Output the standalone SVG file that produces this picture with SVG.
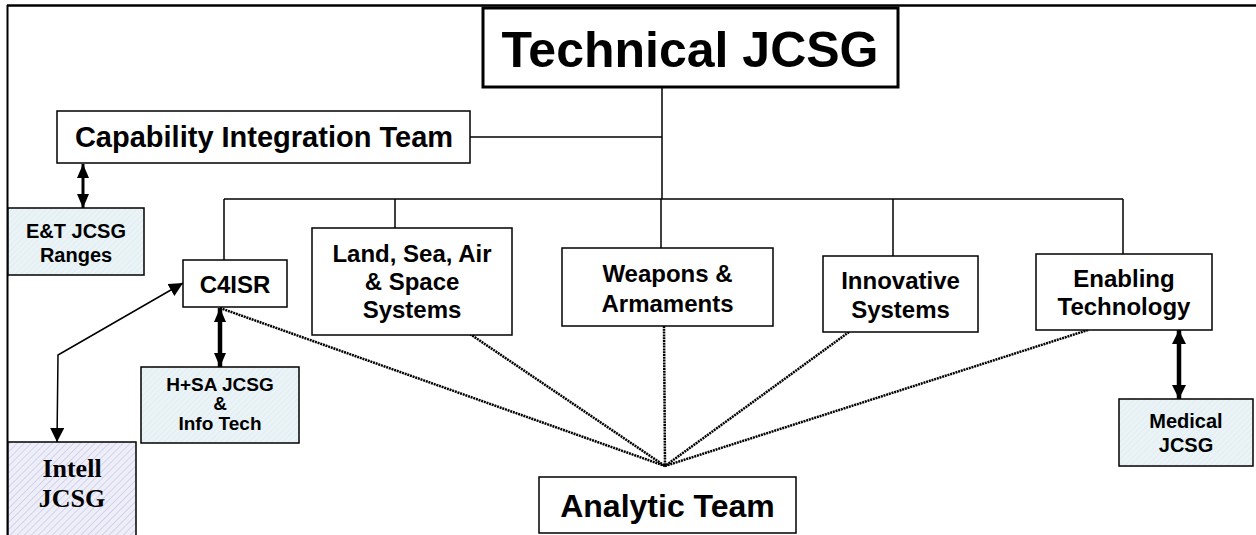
<svg xmlns="http://www.w3.org/2000/svg" width="1256" height="535" viewBox="0 0 1256 535">
<style>
.box{fill:#fff;stroke:#000;stroke-width:1.5}
.ext{fill:url(#hatchBlue);stroke:#000;stroke-width:1.5}
.t{font-family:"Liberation Sans",Arial,sans-serif;font-weight:bold;fill:#000;text-anchor:middle}
.ts{font-family:"Liberation Serif","Times New Roman",serif;font-weight:bold;fill:#000;text-anchor:middle}
.tree{fill:none;stroke:#000;stroke-width:1.5}
.dot{fill:none;stroke:#000;stroke-width:2.5;stroke-dasharray:2 0.8}
.arr{fill:none;stroke:#000}
</style>
<defs>
<pattern id="hatchBlue" width="4" height="4" patternUnits="userSpaceOnUse" patternTransform="rotate(45)">
<rect width="4" height="4" fill="#eaf3f6"/>
<line x1="0" y1="0" x2="0" y2="4" stroke="#dbe8ee" stroke-width="1"/>
</pattern>
<pattern id="hatchLav" width="5" height="5" patternUnits="userSpaceOnUse" patternTransform="rotate(45)">
<rect width="5" height="5" fill="#eeeef8"/>
<line x1="0" y1="0" x2="0" y2="5" stroke="#c8cbe8" stroke-width="1.5"/>
</pattern>
<marker id="ah" viewBox="0 0 14 14" markerWidth="14" markerHeight="14" refX="14" refY="7" orient="auto-start-reverse" markerUnits="userSpaceOnUse">
<path d="M0,0 L14,7 L0,14 z" fill="#000"/>
</marker>
<marker id="ahs" viewBox="0 0 14 12" markerWidth="14" markerHeight="12" refX="14" refY="6" orient="auto-start-reverse" markerUnits="userSpaceOnUse">
<path d="M0,0 L14,6 L0,12 z" fill="#000"/>
</marker>
</defs>

<g id="frame">
<line x1="7" y1="5.5" x2="1256" y2="5.5" stroke="#000" stroke-width="2.5"/>
<line x1="7.5" y1="5" x2="7.5" y2="535" stroke="#000" stroke-width="2"/>
</g>

<g id="connectors">
<polyline class="tree" points="662,87 662,199"/>
<line class="tree" x1="470" y1="137" x2="662" y2="137"/>
<line class="tree" x1="224" y1="199" x2="1123" y2="199"/>
<line class="tree" x1="224" y1="199" x2="224" y2="260"/>
<line class="tree" x1="395" y1="199" x2="395" y2="228"/>
<line class="tree" x1="661" y1="199" x2="661" y2="248"/>
<line class="tree" x1="893" y1="199" x2="893" y2="256"/>
<line class="tree" x1="1123" y1="199" x2="1123" y2="254"/>
<line class="dot" x1="220" y1="308" x2="665" y2="466"/>
<line class="dot" x1="470" y1="334" x2="665" y2="466"/>
<line class="dot" x1="664" y1="326" x2="665" y2="466"/>
<line class="dot" x1="849" y1="332" x2="665" y2="466"/>
<line class="dot" x1="1088" y1="330" x2="665" y2="466"/>
<line class="arr" x1="83" y1="164" x2="83" y2="208" stroke-width="3" marker-start="url(#ahs)" marker-end="url(#ahs)"/>
<line class="arr" x1="220" y1="308" x2="220" y2="367" stroke-width="4.5" marker-start="url(#ahs)" marker-end="url(#ahs)"/>
<polyline class="arr" points="57,442 58,355 183,283" stroke-width="1.5" marker-start="url(#ah)" marker-end="url(#ah)"/>
<line class="arr" x1="1179" y1="330" x2="1179" y2="399" stroke-width="4.5" marker-start="url(#ah)" marker-end="url(#ah)"/>
</g>

<g id="technical">
<rect x="483" y="8" width="415" height="79" fill="#fff" stroke="#000" stroke-width="3"/>
<text class="t" x="690" y="67" font-size="50">Technical JCSG</text>
</g>
<g id="capability">
<rect class="box" x="57" y="111" width="413" height="52"/>
<text class="t" x="264" y="147" font-size="29">Capability Integration Team</text>
</g>
<g id="et-ranges">
<rect class="ext" x="8" y="208" width="136" height="67"/>
<text class="t" x="76" y="238" font-size="20">E&amp;T JCSG</text>
<text class="t" x="76" y="262" font-size="20">Ranges</text>
</g>
<g id="c4isr">
<rect class="box" x="183" y="260" width="104" height="47"/>
<text class="t" x="235" y="293" font-size="24">C4ISR</text>
</g>
<g id="land-sea-air">
<rect class="box" x="312" y="228" width="200" height="107"/>
<text class="t" x="412" y="262" font-size="24">Land, Sea, Air</text>
<text class="t" x="412" y="290" font-size="24">&amp; Space</text>
<text class="t" x="412" y="318" font-size="24">Systems</text>
</g>
<g id="weapons">
<rect class="box" x="562" y="248" width="211" height="78"/>
<text class="t" x="667.5" y="282" font-size="24">Weapons &amp;</text>
<text class="t" x="667.5" y="312" font-size="24">Armaments</text>
</g>
<g id="innovative">
<rect class="box" x="823" y="256" width="155" height="76"/>
<text class="t" x="900.5" y="289" font-size="24">Innovative</text>
<text class="t" x="900.5" y="318" font-size="24">Systems</text>
</g>
<g id="enabling">
<rect class="box" x="1036" y="254" width="176" height="76"/>
<text class="t" x="1124" y="287" font-size="24">Enabling</text>
<text class="t" x="1124" y="315" font-size="24">Technology</text>
</g>
<g id="hsa">
<rect class="ext" x="141" y="367" width="158" height="76"/>
<text class="t" x="220" y="391" font-size="19">H+SA JCSG</text>
<text class="t" x="220" y="410" font-size="19">&amp;</text>
<text class="t" x="220" y="430" font-size="19">Info Tech</text>
</g>
<g id="intell">
<rect x="8" y="442" width="128" height="100" fill="url(#hatchLav)" stroke="#000" stroke-width="1.5"/>
<text class="ts" x="72" y="477" font-size="26">Intell</text>
<text class="ts" x="72" y="507" font-size="26">JCSG</text>
</g>
<g id="medical">
<rect class="ext" x="1119" y="399" width="134" height="67"/>
<text class="t" x="1186" y="428" font-size="20">Medical</text>
<text class="t" x="1186" y="452" font-size="20">JCSG</text>
</g>
<g id="analytic">
<rect class="box" x="539" y="477" width="257" height="56"/>
<text class="t" x="667.5" y="517" font-size="32">Analytic Team</text>
</g>
</svg>
